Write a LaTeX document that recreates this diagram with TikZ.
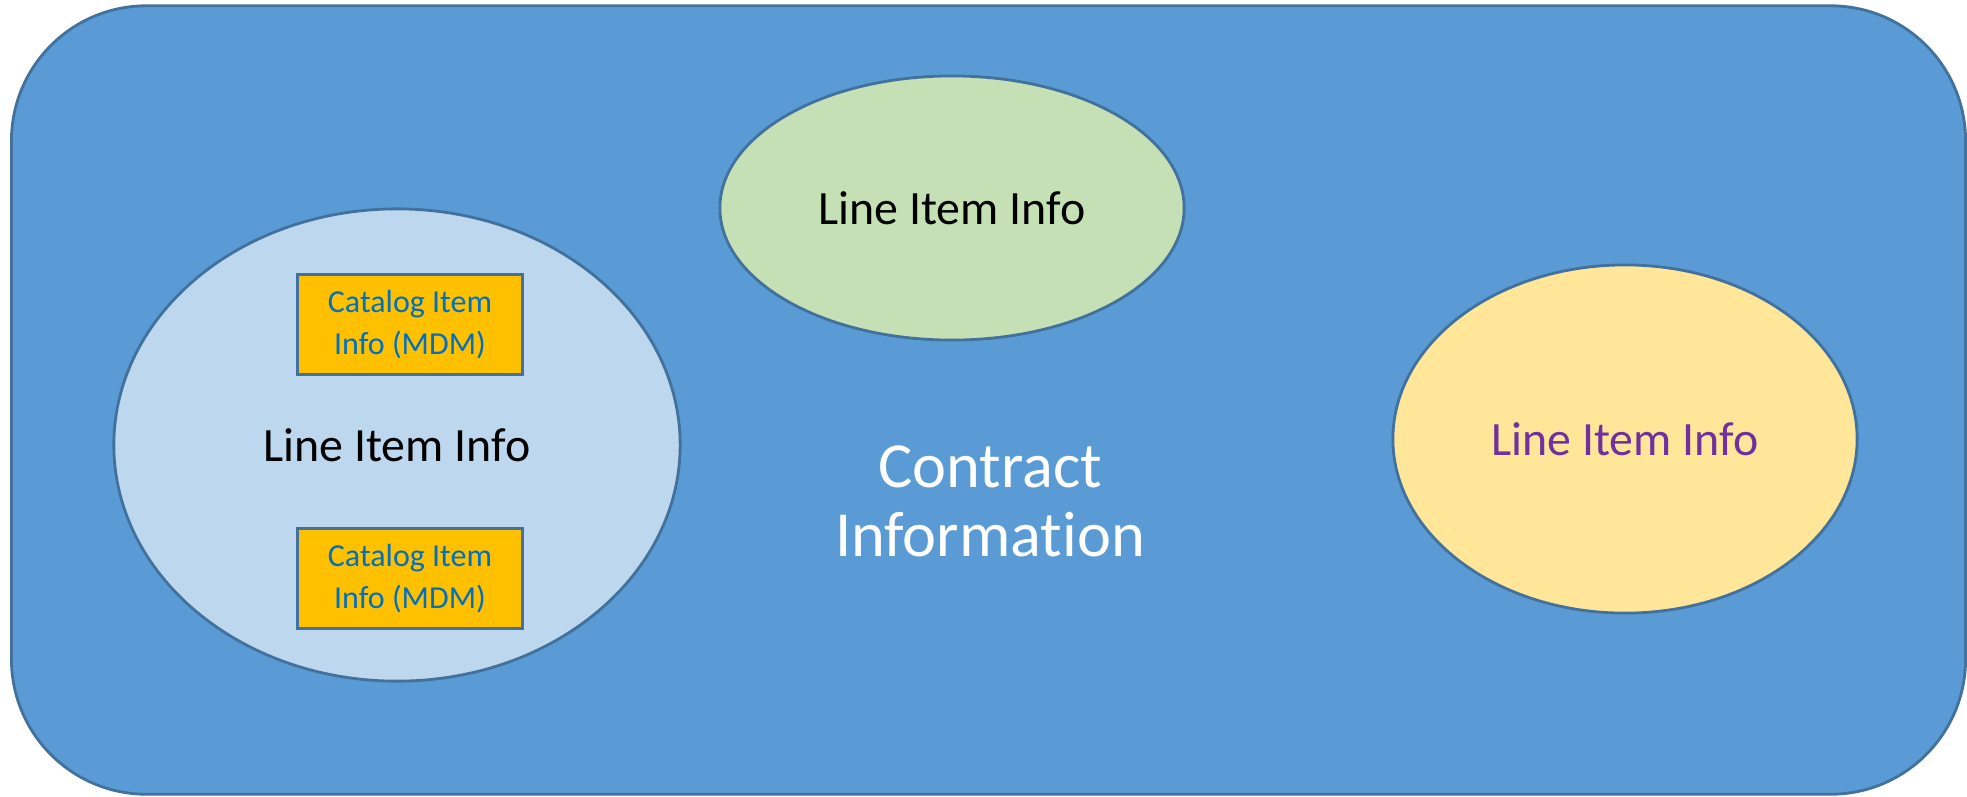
\documentclass[tikz,border=0pt]{standalone}
\usepackage{fontspec}
\setmainfont{Carlito}[Ligatures=CommonOff]
\usetikzlibrary{shapes}
\usetikzlibrary{positioning}
\definecolor{contractblue}{HTML}{5B9BD5}
\definecolor{edgeblue}{HTML}{41719C}
\definecolor{lineblue}{HTML}{BDD7EE}
\definecolor{linegreen}{HTML}{C5E0B4}
\definecolor{lineyellow}{HTML}{FFE699}
\definecolor{linepurple}{HTML}{7030A0}
\definecolor{catalogorange}{HTML}{FFC000}
\definecolor{catalogtext}{HTML}{0070C0}
\tikzstyle{outline} = [draw=edgeblue, line width=0.8pt]
\tikzstyle{info} = [ellipse, outline, inner sep=0pt,
font=\fontsize{13.6}{14}\selectfont]
\tikzstyle{catalog} = [rectangle, outline, fill=catalogorange, text=catalogtext,
minimum width=2.25cm, minimum height=1cm, align=center,
font=\fontsize{9.1}{11.8}\selectfont]
\tikzstyle{contract} = [rectangle, outline, fill=contractblue, rounded corners=1.35cm]

\begin{document}
\begin{tikzpicture}[x=0.01cm, y=-0.01cm]
  \useasboundingbox (0,0) rectangle (1967,796);
  \node[contract, minimum width=19.53cm, minimum height=7.88cm] (frame) at (988.5,400) {};
  \node[text=white, align=center, font=\fontsize{18.3}{19.6}\selectfont] (cinfo) at (990,501) {Contract\\Information};

  \node[info, fill=linegreen, minimum width=4.64cm, minimum height=2.64cm] (green) at (952,208) {Line Item Info};
  \node[info, fill=lineblue, minimum width=5.66cm, minimum height=4.72cm] (blue) at (397,445) {Line Item Info};
  \node[info, fill=lineyellow, text=linepurple, minimum width=4.64cm, minimum height=3.48cm] (yellow) at (1625,439) {Line Item Info};

  \node[catalog, above=0.69cm of blue.center, xshift=0.13cm] (cat1) {Catalog Item\\Info (MDM)};
  \node[catalog, below=0.82cm of blue.center, xshift=0.13cm] (cat2) {Catalog Item\\Info (MDM)};
\end{tikzpicture}
\end{document}
